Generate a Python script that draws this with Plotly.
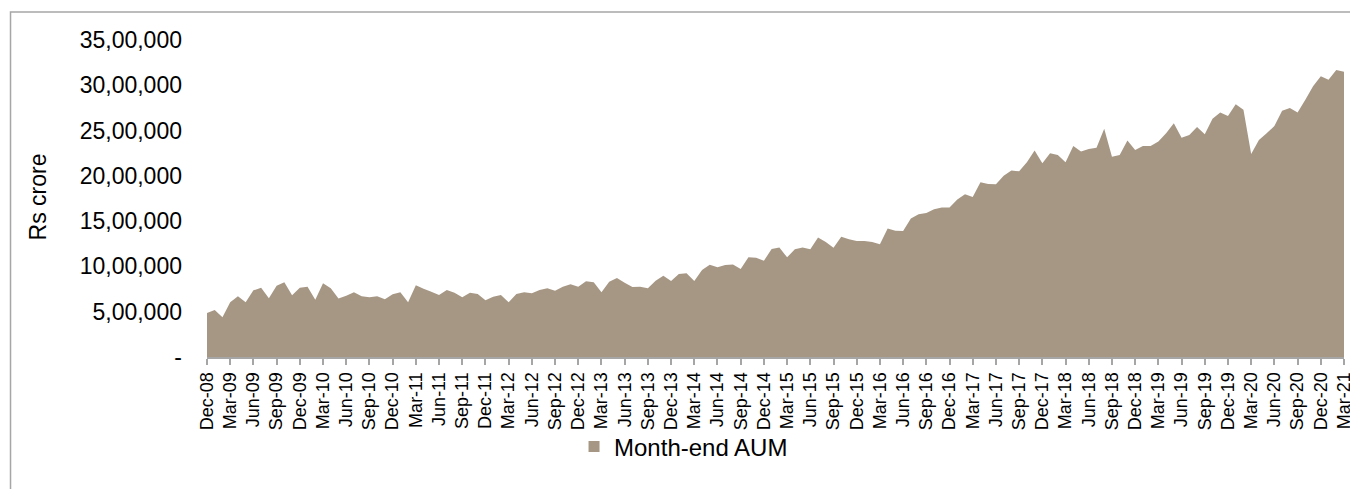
import pandas as pd
import plotly.graph_objects as go

# Month-end AUM, Rs crore (Dec-08 .. Mar-21) (in lakh)
aum_lakh = [
    4.86, 5.19, 4.39, 6.05, 6.70, 6.04, 7.36, 7.65, 6.49, 7.86, 8.25, 6.82,
    7.64, 7.75, 6.32, 8.15, 7.59, 6.46, 6.77, 7.15, 6.70, 6.60, 6.71, 6.38,
    6.92, 7.14, 6.05, 7.91, 7.54, 7.20, 6.84, 7.40, 7.10, 6.59, 7.10, 6.95,
    6.26, 6.66, 6.84, 6.04, 6.95, 7.14, 7.03, 7.40, 7.58, 7.32, 7.76, 8.02,
    7.76, 8.36, 8.24, 7.14, 8.31, 8.72, 8.20, 7.73, 7.76, 7.58, 8.42, 8.97,
    8.39, 9.16, 9.24, 8.39, 9.60, 10.19, 9.90, 10.15, 10.20, 9.71, 11.00, 10.96,
    10.63, 11.92, 12.10, 11.00, 11.90, 12.10, 11.90, 13.20, 12.70, 12.07, 13.28, 12.99,
    12.80, 12.80, 12.70, 12.44, 14.20, 13.94, 13.90, 15.30, 15.75, 15.90, 16.30, 16.50,
    16.50, 17.40, 17.96, 17.66, 19.30, 19.10, 19.06, 20.00, 20.60, 20.50, 21.50, 22.80,
    21.40, 22.50, 22.30, 21.50, 23.30, 22.70, 22.96, 23.10, 25.20, 22.10, 22.30, 23.90,
    22.85, 23.30, 23.30, 23.80, 24.70, 25.80, 24.20, 24.50, 25.40, 24.60, 26.30, 27.00,
    26.60, 27.90, 27.30, 22.40, 23.95, 24.70, 25.50, 27.20, 27.50, 27.00, 28.40, 29.90,
    31.00, 30.60, 31.70, 31.50,
]
aum = [round(v * 100000) for v in aum_lakh]

months = [d.strftime("%b-%y") for d in pd.date_range("2008-12-01", periods=len(aum), freq="MS")]

tick_labels = [
    "Dec-08", "Mar-09", "Jun-09", "Sep-09", "Dec-09", "Mar-10", "Jun-10", "Sep-10",
    "Dec-10", "Mar-11", "Jun-11", "Sep-11", "Dec-11", "Mar-12", "Jun-12", "Sep-12",
    "Dec-12", "Mar-13", "Jun-13", "Sep-13", "Dec-13", "Mar-14", "Jun-14", "Sep-14",
    "Dec-14", "Mar-15", "Jun-15", "Sep-15", "Dec-15", "Mar-16", "Jun-16", "Sep-16",
    "Dec-16", "Mar-17", "Jun-17", "Sep-17", "Dec-17", "Mar-18", "Jun-18", "Sep-18",
    "Dec-18", "Mar-19", "Jun-19", "Sep-19", "Dec-19", "Mar-20", "Jun-20", "Sep-20",
    "Dec-20", "Mar-21",
]
y_tickvals = [0, 500000, 1000000, 1500000, 2000000, 2500000, 3000000, 3500000]
y_ticktext = ["-", "5,00,000", "10,00,000", "15,00,000", "20,00,000",
              "25,00,000", "30,00,000", "35,00,000"]

FONT = "Liberation Sans, Arial, sans-serif"
FILL = "#A69785"
GREY = "#A6A6A6"

# page is rendered with an 8px body margin: design in page coords, shift by 8
OFF = 8
W, H = 1358, 489
PL, PR, PT, PB = 207, 1347, 40, 357          # plot box in page pixels
L, T = PL - OFF, PT - OFF
R, B = W - (PR - OFF), H - (PB - OFF)
pw, ph = PR - PL, PB - PT

def px(x):
    return (x - PL) / pw

def py(y):
    return (PB - y) / ph

fig = go.Figure()
fig.add_trace(go.Scatter(
    x=months, y=aum, name="Month-end AUM",
    mode="none", fill="tozeroy", fillcolor=FILL,
    line=dict(width=0, color=FILL), showlegend=False,
))
fig.add_trace(go.Scatter(
    x=[None], y=[None], name="Month-end AUM", mode="markers",
    marker=dict(symbol="square", size=11, color=FILL), showlegend=True,
))

fig.update_layout(
    width=W, height=H,
    margin=dict(l=L, r=R, t=T, b=B),
    paper_bgcolor="white", plot_bgcolor="white",
    font=dict(family=FONT, size=23, color="#000000"),
    showlegend=True,
    legend=dict(x=px(575), y=py(447), xanchor="left", yanchor="middle",
                orientation="h", font=dict(size=24),
                itemwidth=30, bgcolor="rgba(0,0,0,0)"),
    xaxis=dict(
        type="category", range=[0, len(aum) - 1],
        tickmode="array", tickvals=tick_labels, ticktext=tick_labels,
        tickangle=-90, ticks="outside", ticklen=6, tickwidth=1.5, tickcolor=GREY,
        showline=True, linecolor=GREY, linewidth=2,
        showgrid=False, zeroline=False,
        tickfont=dict(size=18),
    ),
    yaxis=dict(
        range=[0, 3500000], tickmode="array",
        tickvals=y_tickvals, ticktext=y_ticktext,
        showgrid=False, zeroline=False, showline=False, ticks="",
        ticklabelstandoff=24, tickfont=dict(size=23),
    ),
    annotations=[dict(
        text="Rs crore", textangle=-90, showarrow=False,
        xref="paper", yref="paper", x=px(38), y=py(197),
        xanchor="center", yanchor="middle", font=dict(size=23),
    )],
    shapes=[dict(
        type="rect", xref="paper", yref="paper",
        x0=px(10), x1=px(1420), y0=py(600), y1=py(12),
        line=dict(color=GREY, width=1.5), fillcolor="rgba(0,0,0,0)", layer="below",
    )],
)

fig.write_html("out.html")
